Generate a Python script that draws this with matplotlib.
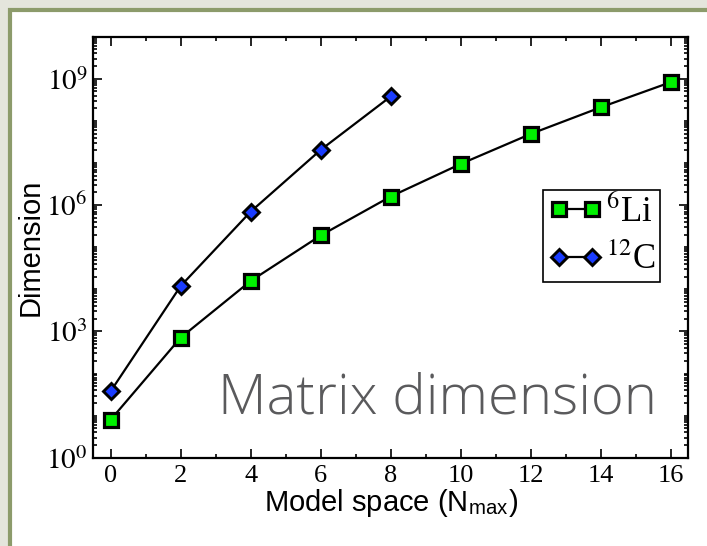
import numpy as np
import matplotlib
matplotlib.use('Agg')
import matplotlib.pyplot as plt
from matplotlib.patches import Rectangle
from matplotlib.ticker import FixedLocator, LogLocator, NullFormatter, FuncFormatter

# Данные
nmax_li = [0, 2, 4, 6, 8, 10, 12, 14, 16]
dim_li = [8, 7.1e2, 1.58e4, 1.9e5, 1.6e6, 9.5e6, 4.9e7, 2.1e8, 8.3e8]
nmax_c = [0, 2, 4, 6, 8]
dim_c = [38, 1.2e4, 7.0e5, 2.05e7, 3.8e8]

x_ticks = [0, 2, 4, 6, 8, 10, 12, 14, 16]
y_ticks = [1, 1e3, 1e6, 1e9]

plt.rcParams['mathtext.fontset'] = 'stix'
serif = ['Liberation Serif', 'DejaVu Serif']
sans = ['Liberation Sans', 'DejaVu Sans']

fig = plt.figure(figsize=(7.07, 5.46), dpi=100)
fig.patch.set_facecolor('#e4e5dc')

# Белая панель с оливковой рамкой
fig.patches.append(Rectangle((10 / 707, -0.1), 1.2, (546 - 10) / 546 + 0.1,
                             transform=fig.transFigure, facecolor='white',
                             edgecolor='#8c9b6b', linewidth=3, zorder=-10))

ax = fig.add_axes([93.2 / 707, 88.3 / 546, 595 / 707, 421 / 546])
ax.set_facecolor('none')

ax.plot(nmax_li, dim_li, color='black', lw=1.6, marker='s', ms=9.8,
        mfc='#00f000', mec='black', mew=2.3, label=r'$^{6}$Li', zorder=3)
ax.plot(nmax_c, dim_c, color='black', lw=1.6, marker='D', ms=8.3,
        mfc='#1a3cff', mec='black', mew=2.1, label=r'$^{12}$C', zorder=3)

ax.set_yscale('log')
ax.set_xlim(-0.5, 16.5)
ax.set_ylim(1, 1e10)

ax.xaxis.set_major_locator(FixedLocator(x_ticks))
ax.xaxis.set_minor_locator(FixedLocator(np.arange(1, 16, 2)))
ax.yaxis.set_major_locator(FixedLocator(y_ticks))
ax.yaxis.set_minor_locator(LogLocator(base=10, subs=np.arange(1, 10), numticks=100))
ax.yaxis.set_minor_formatter(NullFormatter())
ax.yaxis.set_major_formatter(FuncFormatter(lambda v, p: r'$10^{%d}$' % round(np.log10(v))))

ax.tick_params(which='both', direction='in', top=True, right=True, width=1.2)
ax.tick_params(which='major', length=6.5)
ax.tick_params(which='minor', length=3.2)
ax.tick_params(axis='x', which='major', labelsize=19, pad=5)
ax.tick_params(axis='y', which='major', labelsize=21, pad=4)
for lab in ax.get_xticklabels():
    lab.set_family(serif)
for s in ax.spines.values():
    s.set_linewidth(1.6)

ax.set_xlabel(r'Model space (N$_{\mathregular{max}}$)', fontsize=21, family=sans, labelpad=0)
ax.set_ylabel('Dimension', fontsize=21, family=sans, labelpad=1)

leg = ax.legend(loc='upper left', bbox_to_anchor=((543 - 93.2) / 595, (457.7 - 190) / 421),
                prop={'family': serif, 'size': 25}, handlelength=1.55, handletextpad=0.1,
                borderpad=0.15, labelspacing=0.4, fancybox=False, framealpha=1,
                edgecolor='black', numpoints=2, borderaxespad=0)
leg.get_frame().set_linewidth(1.2)

ax.text((218 - 93.2) / 595, (457.7 - 413) / 421, 'Matrix dimension', transform=ax.transAxes,
        ha='left', va='baseline', fontsize=40.5, color='#5a5a5c', fontweight='light',
        family=['Open Sans', 'DejaVu Sans'])

fig.savefig('out.png', dpi=100, facecolor=fig.get_facecolor())
